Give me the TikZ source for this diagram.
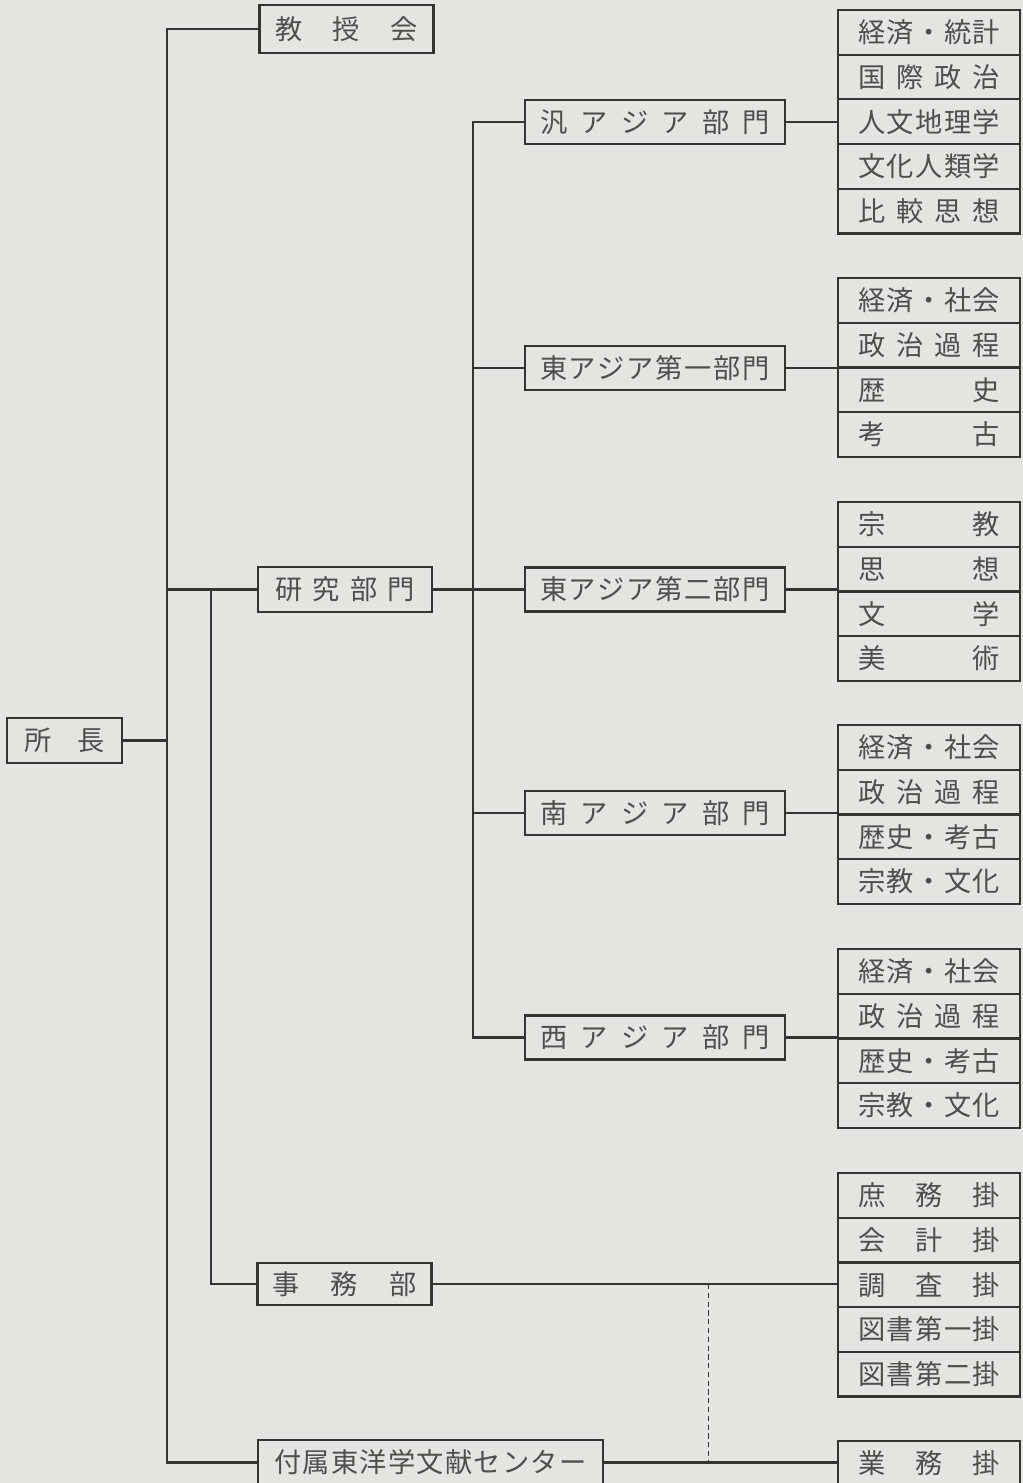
\documentclass[tikz,border=0pt]{standalone}
\usepackage{fontspec}
\newfontfamily\jpfont{Noto Sans CJK JP}
\usepackage{xcolor}
\usetikzlibrary{positioning, calc}
\definecolor{PaperGray}{RGB}{229, 228, 224}
\definecolor{InkGray}{RGB}{52, 52, 52}
\definecolor{TextGray}{RGB}{78, 78, 78}
% spread the characters of a label over a fixed width
\def\sprloop#1{\ifx#1\relax\else#1\expandafter\sprnext\fi}
\def\sprnext#1{\ifx#1\relax\else\hfill#1\expandafter\sprnext\fi}
\newcommand{\spr}[2]{\makebox[#1][s]{\expandafter\sprloop#2\relax}}
\tikzset{
  unit/.style={rectangle, draw=InkGray, line width=1.25pt, inner sep=0pt,
    outer sep=0pt, minimum width=3.48cm, minimum height=0.9cm,
    font=\jpfont\fontsize{15.5}{18}\selectfont, text=TextGray},
  div/.style={unit, minimum width=5.2cm, minimum height=0.88cm},
  cell/.style={unit, minimum width=3.64cm, minimum height=0.894cm},
  link/.style={draw=InkGray, line width=1.25pt},
  dotlink/.style={draw=InkGray, line width=1pt, dash pattern=on 3pt off 2pt},
}
\begin{document}
\begin{tikzpicture}[x=0.02cm, y=-0.02cm]
  \fill[PaperGray] (0,0) rectangle (1023,1483);
  \useasboundingbox (0,0) rectangle (1023,1483);
  % left column
  \node[unit, minimum width=2.3cm] (boss) at (64.5,740.5) {\spr{1.6cm}{所長}};
  \node[unit, minimum height=0.96cm] (council) at (346.5,29) {\spr{2.84cm}{教授会}};
  \node[unit] (research) at (345,589.5) {\spr{2.8cm}{研究部門}};
  \node[unit, minimum height=0.84cm] (office) at (344.5,1284) {\spr{2.9cm}{事務部}};
  \node[unit, minimum width=6.9cm] (center) at (430.5,1462.5)
    {\spr{6.24cm}{付属東洋学文献センター}};
  % divisions
  \node[div] (pan) at (655,122) {\spr{4.6cm}{汎アジア部門}};
  \node[div] (eastone) at (655,368) {\spr{4.6cm}{東アジア第一部門}};
  \node[div] (easttwo) at (655,589.5) {\spr{4.6cm}{東アジア第二部門}};
  \node[div] (south) at (655,813) {\spr{4.6cm}{南アジア部門}};
  \node[div] (west) at (655,1037.5) {\spr{4.6cm}{西アジア部門}};
  % sections
  \foreach \sid/\stop/\slist in {
      a/10/{経済・統計,国際政治,人文地理学,文化人類学,比較思想},
      b/278/{経済・社会,政治過程,歴史,考古},
      c/502/{宗教,思想,文学,美術},
      d/725/{経済・社会,政治過程,歴史・考古,宗教・文化},
      e/949/{経済・社会,政治過程,歴史・考古,宗教・文化},
      f/1173/{庶務掛,会計掛,調査掛,図書第一掛,図書第二掛},
      g/1441/{業務掛}}
    \foreach \lbl [count=\i] in \slist
      \node[cell] (s\sid-\i) at (929,{\stop+22.35+44.7*(\i-1)})
        {\spr{2.84cm}{\lbl}};
  % connectors
  \coordinate (trunk) at (167,740.5);
  \coordinate (rtrunk) at (473,589.5);
  \draw[link] (boss) -- (trunk);
  \draw[link] (council.west) -| (trunk) |- (center.west);
  \draw[link] (research.west) -- (research.west -| trunk);
  \draw[link] ($(research.west)+(-47,0)$) |- (office.west);
  \draw[link] (research) -- (easttwo);
  \draw[link] (pan.west) -| (rtrunk) |- (west.west);
  \draw[link] (eastone.west) -- (eastone.west -| rtrunk);
  \draw[link] (south.west) -- (south.west -| rtrunk);
  \draw[link] (pan) -- (pan -| sa-1.west);
  \draw[link] (eastone) -- (eastone -| sb-1.west);
  \draw[link] (easttwo) -- (easttwo -| sc-1.west);
  \draw[link] (south) -- (south -| sd-1.west);
  \draw[link] (west) -- (west -| se-1.west);
  \draw[link] (office) -- (office -| sf-1.west);
  \draw[link] (center) -- (center -| sg-1.west);
  \path (office.east) ++(277,0) coordinate (dtop);
  \draw[dotlink] (dtop) -- (dtop |- center);
\end{tikzpicture}
\end{document}
